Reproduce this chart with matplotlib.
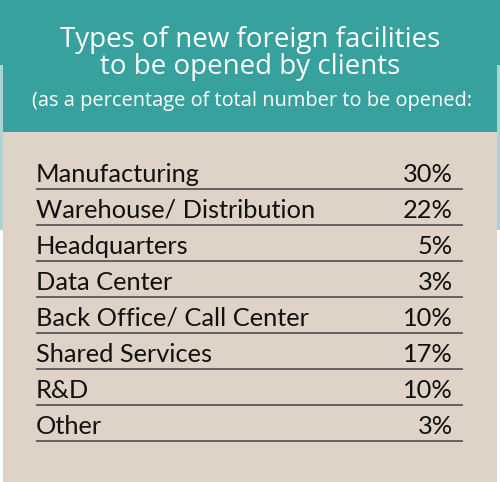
import matplotlib
matplotlib.use('Agg')
import matplotlib.pyplot as plt
from matplotlib.patches import Rectangle

# Table content
categories = ['Manufacturing', 'Warehouse/ Distribution', 'Headquarters',
              'Data Center', 'Back Office/ Call Center', 'Shared Services',
              'R&D', 'Other']
shares = [30, 22, 5, 3, 10, 17, 10, 3]
title_lines = ['Types of new foreign facilities', 'to be opened by clients']
subtitle = '(as a percentage of total number to be opened:'

TEAL = '#37a19e'
BEIGE = '#dfd2c6'
EDGE = '#a9d3d6'
HEAD_FONT = 'Open Sans'
ROW_FONT = 'Lato'

W, H = 500, 482
fig = plt.figure(figsize=(W / 100, H / 100), dpi=100)
ax = fig.add_axes([0, 0, 1, 1])
ax.set_xlim(0, W)
ax.set_ylim(H, 0)
ax.axis('off')

# background blocks
ax.add_patch(Rectangle((0, 65), W, 165, color=EDGE, lw=0))
ax.add_patch(Rectangle((0, 0), W, 65, color=TEAL, lw=0))
ax.add_patch(Rectangle((3, 0), 494, 132, color=TEAL, lw=0))
ax.add_patch(Rectangle((3, 132), 494, H - 132, color=BEIGE, lw=0))

# header
ax.text(250, 47, title_lines[0], color='white', fontsize=20, family=HEAD_FONT,
        ha='center', va='baseline')
ax.text(250, 74, title_lines[1], color='white', fontsize=20, family=HEAD_FONT,
        ha='center', va='baseline')
ax.text(252, 106, subtitle, color='white', fontsize=14.4, family=HEAD_FONT,
        ha='center', va='baseline')

# rows
x0, x1, xr = 36, 463, 453
top, step = 182, 36
for i, (cat, v) in enumerate(zip(categories, shares)):
    y = top + i * step
    ax.text(x0, y, cat, fontsize=18.3, family=ROW_FONT, color='#111111',
            ha='left', va='baseline')
    ax.text(xr, y, f'{v}%', fontsize=18.3, family=ROW_FONT, color='#111111',
            ha='right', va='baseline')
    ax.plot([x0, x1], [y + 7, y + 7], color='#5a5754', lw=1.3,
            solid_capstyle='butt')

fig.savefig('out.png', dpi=100)
